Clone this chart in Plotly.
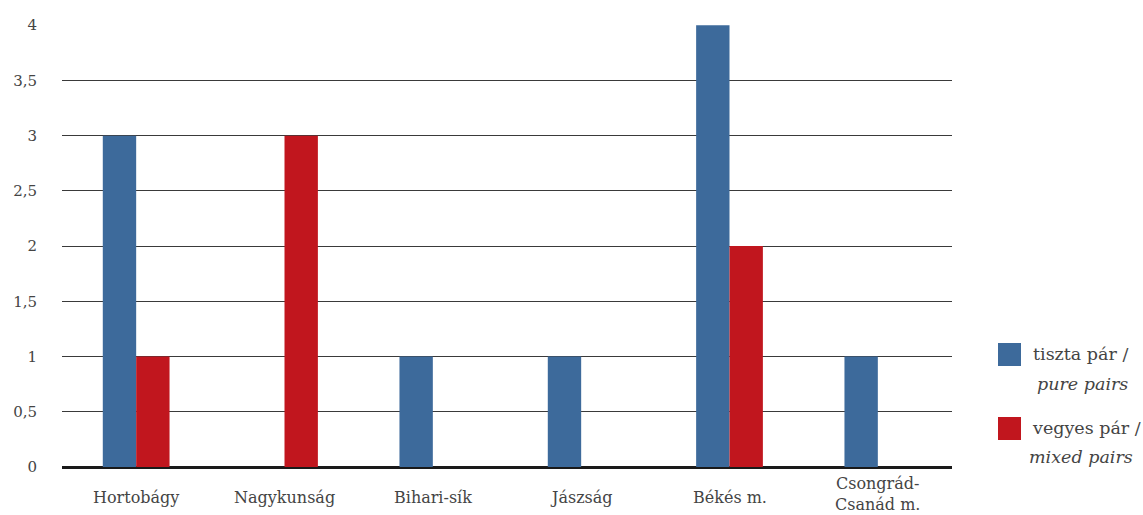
import plotly.graph_objects as go

# Regions and number of breeding pairs
regions = ["Hortobágy", "Nagykunság", "Bihari-sík", "Jászság", "Békés m.", "Csongrád-<br>Csanád m."]
pure_pairs = [3, 0, 1, 1, 4, 1]
mixed_pairs = [1, 3, 0, 0, 2, 0]
y_ticks = [0, 0.5, 1, 1.5, 2, 2.5, 3, 3.5, 4]
y_tick_text = ["0", "0,5", "1", "1,5", "2", "2,5", "3", "3,5", "4"]

BLUE = "#3D6A9B"
RED = "#C1161E"
FONT = "DejaVu Serif"
TEXT = "#444444"

W, H = 1143, 515
L, R, T, B = 62, 191, 25, 48
plot_w = W - L - R
plot_h = H - T - B


def px_x(px):
    return (px - L) / plot_w


def px_y(py):
    return (H - B - py) / plot_h


fig = go.Figure()
fig.add_trace(go.Bar(x=regions, y=pure_pairs, marker=dict(color=BLUE, line_width=0),
                     name="tiszta pár", showlegend=False))
fig.add_trace(go.Bar(x=regions, y=mixed_pairs, marker=dict(color=RED, line_width=0),
                     name="vegyes pár", showlegend=False))

# Category labels below the baseline; the two-line label sits a little higher
for region in regions:
    two_line = "<br>" in region
    fig.add_annotation(xref="x", yref="paper", x=region, y=px_y(494 if two_line else 497),
                       text=region, showarrow=False, xanchor="center", yanchor="middle",
                       font=dict(family=FONT, size=16, color=TEXT))

# Legend drawn as swatches with two-line bilingual labels
legend_items = [
    (BLUE, "tiszta pár /", "pure pairs", 354, 384, 1080, 1082),
    (RED, "vegyes pár /", "mixed pairs", 428, 457, 1086, 1081),
]
for color, hu, en, y1, y2, cx1, cx2 in legend_items:
    fig.add_shape(type="rect", xref="paper", yref="paper",
                  x0=px_x(998), x1=px_x(1021), y0=px_y(y1 + 12), y1=px_y(y1 - 11),
                  fillcolor=color, line_width=0)
    fig.add_annotation(xref="paper", yref="paper", x=px_x(cx1), y=px_y(y1),
                       text=hu, showarrow=False, xanchor="center", yanchor="middle",
                       font=dict(family=FONT, size=17.5, color=TEXT))
    fig.add_annotation(xref="paper", yref="paper", x=px_x(cx2), y=px_y(y2),
                       text=f"<i>{en}</i>", showarrow=False, xanchor="center", yanchor="middle",
                       font=dict(family=FONT, size=17.5, color=TEXT))

fig.update_layout(
    width=W, height=H,
    margin=dict(l=L, r=R, t=T, b=B, autoexpand=False),
    paper_bgcolor="white", plot_bgcolor="white",
    barmode="group", bargap=0.55, bargroupgap=0,
    font=dict(family=FONT, size=15, color=TEXT),
    xaxis=dict(showgrid=False, showline=False, ticks="", showticklabels=False,
               automargin=False),
    yaxis=dict(range=[0, 4.002], tickvals=y_ticks, ticktext=y_tick_text,
               showgrid=True, gridcolor="#3a3a3a", gridwidth=1,
               zeroline=True, zerolinecolor="#1a1a1a", zerolinewidth=3,
               showline=False, ticks="", ticklabelstandoff=24, automargin=False,
               tickfont=dict(size=15, color=TEXT)),
)

fig.write_html("out.html")
